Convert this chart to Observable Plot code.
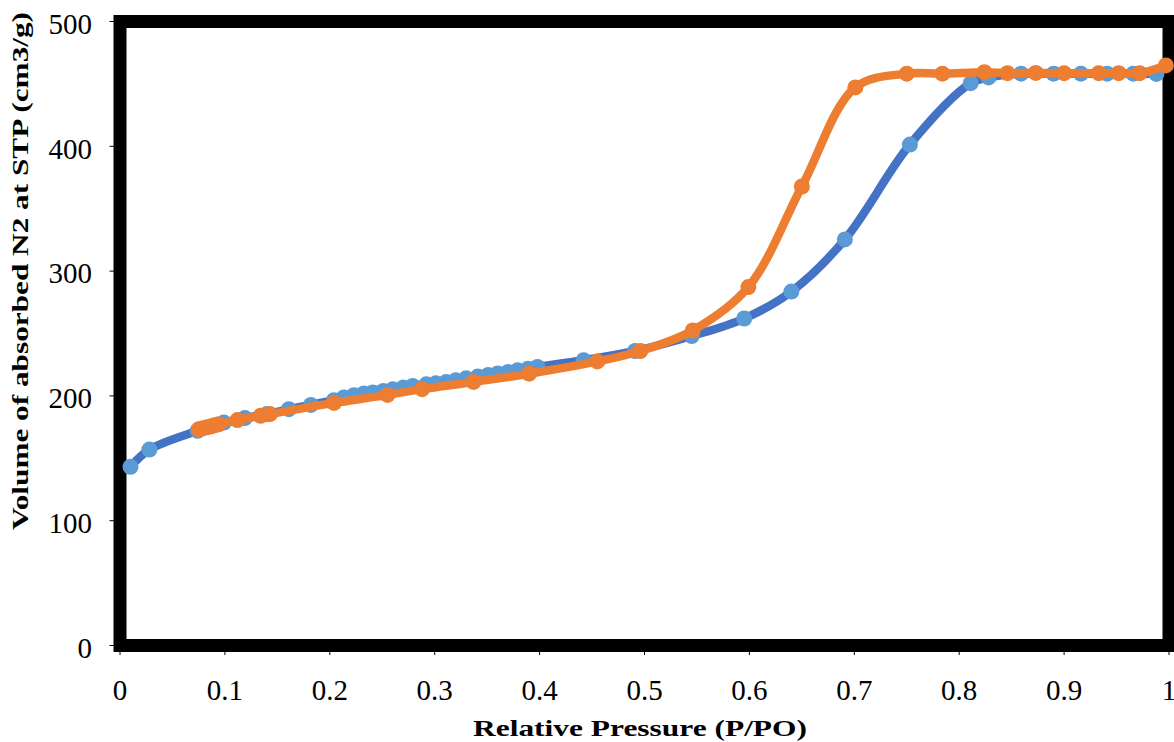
<!DOCTYPE html>
<html>
<head>
<meta charset="utf-8">
<script src="https://cdn.jsdelivr.net/npm/d3@7"></script>
<script src="https://cdn.jsdelivr.net/npm/@observablehq/plot@0.6"></script>
<style>
  html, body { margin: 0; padding: 0; background: white; }
</style>
</head>
<body>
<div id="chart"></div>
<script>
// Adsorption branch (blue)
const adsP = [0.010, 0.028, 0.074, 0.099, 0.119, 0.140, 0.161, 0.182, 0.204,
  0.2135, 0.223, 0.2326, 0.241, 0.251, 0.260, 0.270, 0.279, 0.292, 0.301, 0.311,
  0.320, 0.330, 0.341, 0.351, 0.360, 0.370, 0.379, 0.389, 0.398,
  0.442, 0.491, 0.545, 0.595, 0.640, 0.691, 0.753, 0.811, 0.828, 0.859, 0.890,
  0.916, 0.941, 0.966, 0.988];
const adsV = [143.2, 157.0, 172.0, 178.6, 182.2, 185.4, 189.4, 192.8, 196.6,
  198.7, 200.5, 201.9, 202.7, 204.0, 205.3, 206.7, 208.0, 209.3, 210.1, 211.2,
  212.5, 214.1, 215.5, 216.8, 217.9, 219.2, 220.5, 221.8, 223.2,
  228.6, 236.0, 248.0, 262.0, 283.6, 325.4, 401.4, 450.6, 455.2, 458.2, 458.2,
  458.2, 458.2, 458.2, 458.0];

// Desorption branch (orange)
const desP = [0.075, 0.079, 0.083, 0.087, 0.090, 0.094, 0.112, 0.134, 0.143,
  0.204, 0.255, 0.288, 0.337, 0.390, 0.455, 0.496, 0.546, 0.599, 0.650, 0.701,
  0.750, 0.784, 0.824, 0.846, 0.873, 0.900, 0.933, 0.952, 0.972, 0.997];
const desV = [173.2, 174.0, 174.8, 175.6, 176.4, 177.2, 180.6, 184.0, 185.4,
  194.4, 200.8, 205.4, 211.2, 217.8, 227.6, 236.0, 252.4, 287.2, 367.8, 447.2,
  458.2, 458.2, 459.4, 458.6, 458.8, 458.6, 458.6, 458.6, 458.6, 464.8];

const xTicks = [0, 0.1, 0.2, 0.3, 0.4, 0.5, 0.6, 0.7, 0.8, 0.9, 1];
const yTicks = [0, 100, 200, 300, 400, 500];
const xTitle = "Relative Pressure (P/PO)";
const yTitle = "Volume of absorbed N2 at STP (cm3/g)";

const ads = adsP.map((p, i) => ({p, v: adsV[i]}));
const des = desP.map((p, i) => ({p, v: desV[i]}));

const chart = Plot.plot({
  width: 1174,
  height: 742,
  marginLeft: 119.5,
  marginRight: 5.5,
  marginTop: 21,
  marginBottom: 97,
  style: {fontFamily: "Liberation Serif", fontSize: "29px", color: "black", background: "white"},
  x: {domain: [0, 1]},
  y: {domain: [0, 500]},
  marks: [
    Plot.frame({stroke: "black", strokeWidth: 13}),
    Plot.axisX({ticks: xTicks, tickFormat: d3.format("~g"), tickSize: 10, tickPadding: 24, fontSize: 29, label: null}),
    Plot.axisY({ticks: yTicks, tickSize: 10, tickFormat: () => "", label: null}),
    Plot.axisY({ticks: yTicks, tickSize: 0, tickPadding: 28, fontSize: 29, dy: 3, label: null}),
    Plot.line(ads, {x: "p", y: "v", curve: "catmull-rom", stroke: "#4472C4", strokeWidth: 8.5}),
    Plot.dot(ads, {x: "p", y: "v", r: 8, fill: "#5B9BD5", stroke: "none"}),
    Plot.line(des, {x: "p", y: "v", curve: "catmull-rom", stroke: "#ED7D31", strokeWidth: 8.5}),
    Plot.dot(des, {x: "p", y: "v", r: 8, fill: "#ED7D31", stroke: "none"})
  ]
});

const svg = d3.select(chart);
svg.append("text")
  .attr("x", 640).attr("y", 736)
  .attr("text-anchor", "middle")
  .attr("font-family", "Liberation Serif")
  .attr("font-weight", "bold")
  .attr("font-size", 24)
  .attr("textLength", 334)
  .attr("lengthAdjust", "spacingAndGlyphs")
  .attr("fill", "black")
  .text(xTitle);
svg.append("text")
  .attr("transform", "translate(28,271) rotate(-90)")
  .attr("text-anchor", "middle")
  .attr("font-family", "Liberation Serif")
  .attr("font-weight", "bold")
  .attr("font-size", 24)
  .attr("textLength", 518)
  .attr("lengthAdjust", "spacingAndGlyphs")
  .attr("fill", "black")
  .text(yTitle);

document.getElementById("chart").appendChild(chart);
</script>
</body>
</html>
